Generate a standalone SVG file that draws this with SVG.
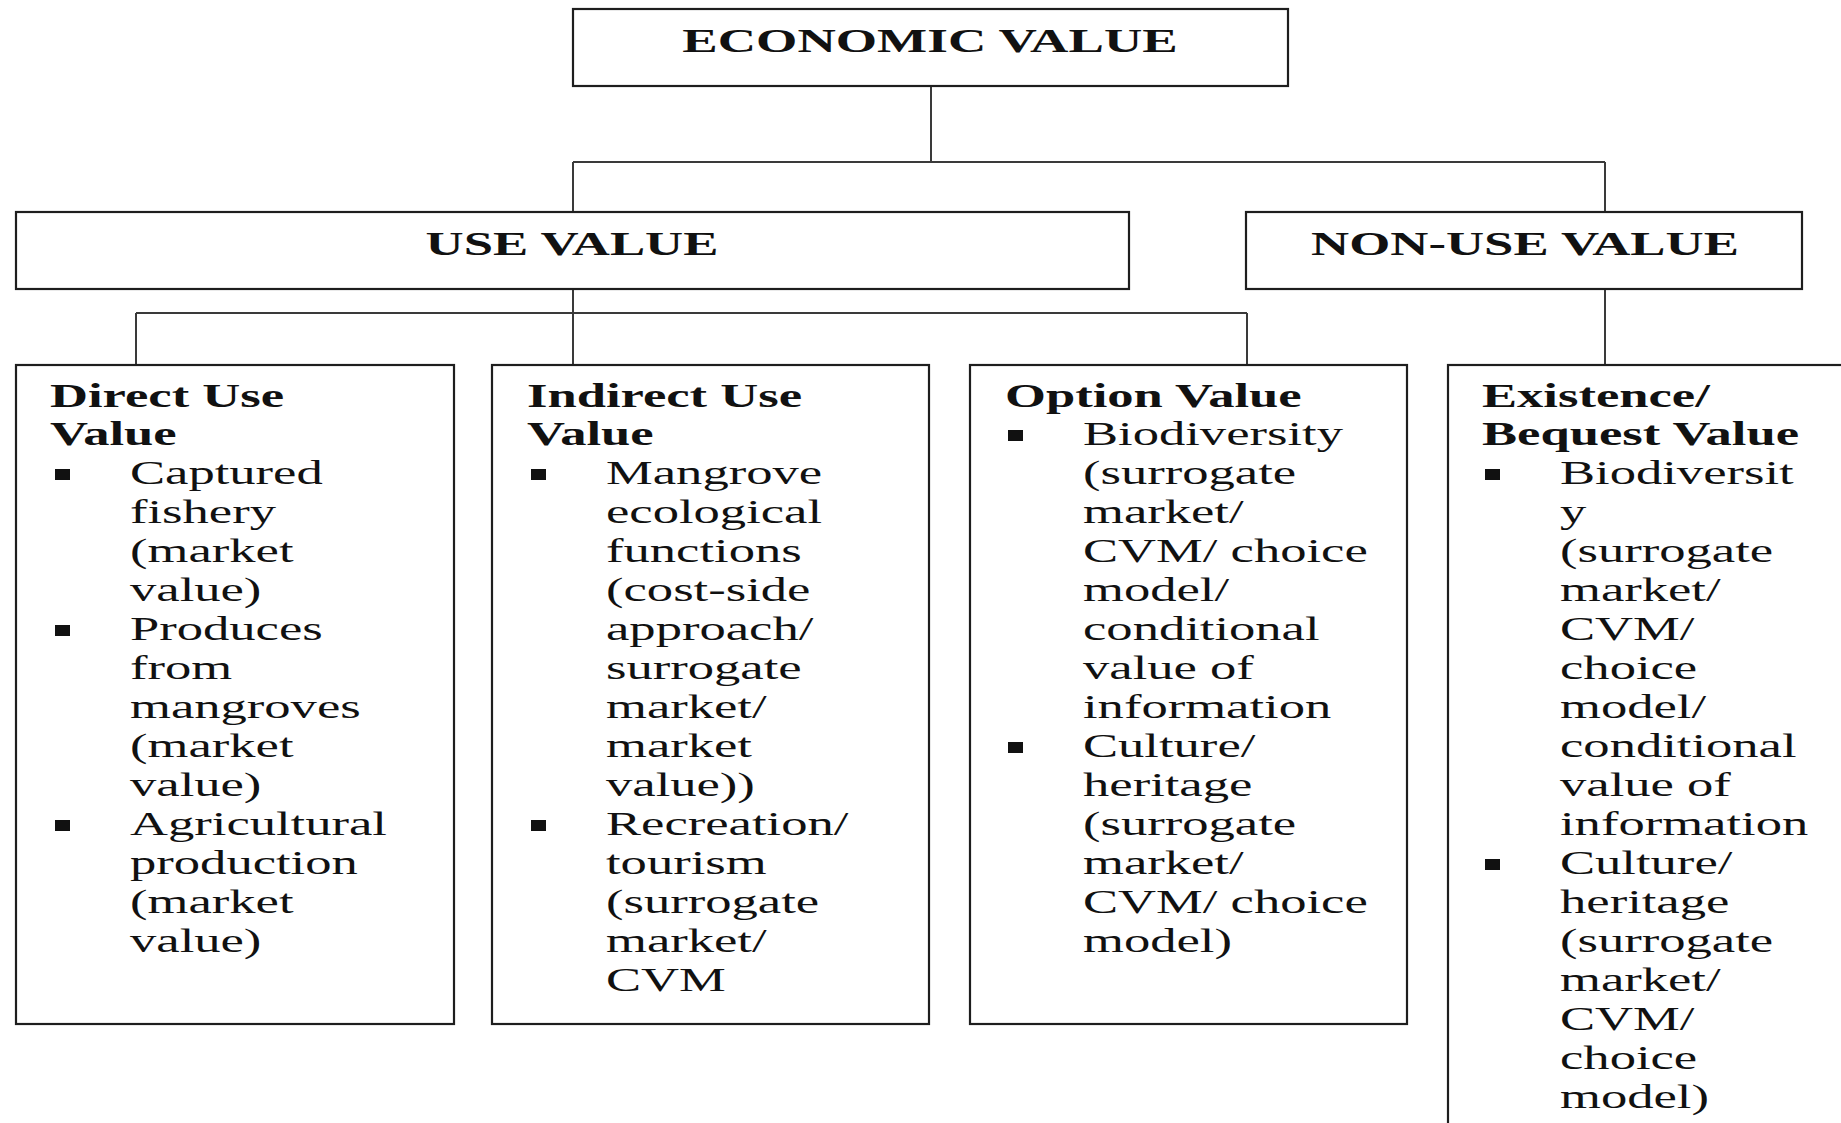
<svg xmlns="http://www.w3.org/2000/svg" width="1841" height="1123" viewBox="0 0 1841 1123">
<style>
.box{fill:#fff;stroke:#1e1e1e;stroke-width:2.2}
.con{fill:none;stroke:#3a3a3a;stroke-width:2}
.h{font-family:"Liberation Serif","Times New Roman",serif;font-weight:bold;font-size:33px;fill:#111}
.t{font-family:"Liberation Serif","Times New Roman",serif;font-size:33px;fill:#111}
.bul{fill:#111}
</style>
<rect width="1841" height="1123" fill="#fff"/>
<g id="connectors">
<path class="con" d="M931,86 V162 M573,162 H1605 M573,162 V212 M1605,162 V212 M573,289 V313 M136,313 H1247 M136,313 V365 M573,313 V365 M1247,313 V365 M1605,289 V365"/>
</g>
<g id="economic-value">
<rect class="box" x="573" y="9" width="715" height="77"/>
<text class="h" text-anchor="middle" transform="translate(930,52) scale(1.61,1)">ECONOMIC VALUE</text>
</g>
<g id="use-value">
<rect class="box" x="16" y="212" width="1113" height="77"/>
<text class="h" text-anchor="middle" transform="translate(572,255) scale(1.6,1)">USE VALUE</text>
</g>
<g id="non-use-value">
<rect class="box" x="1246" y="212" width="556" height="77"/>
<text class="h" text-anchor="middle" transform="translate(1525,255) scale(1.6,1)">NON-USE VALUE</text>
</g>
<g id="direct-use-value">
<rect class="box" x="16" y="365" width="438" height="659"/>
<text class="h" transform="translate(50,407) scale(1.594,1)"><tspan x="0" y="0">Direct Use</tspan><tspan x="0" y="38">Value</tspan></text>
<rect class="bul" x="55" y="469" width="15" height="11"/>
<rect class="bul" x="55" y="625" width="15" height="11"/>
<rect class="bul" x="55" y="820" width="15" height="11"/>
<text class="t" transform="translate(130,484) scale(1.594,1)"><tspan x="0" y="0">Captured</tspan><tspan x="0" dy="39">fishery</tspan><tspan x="0" dy="39">(market</tspan><tspan x="0" dy="39">value)</tspan><tspan x="0" dy="39">Produces</tspan><tspan x="0" dy="39">from</tspan><tspan x="0" dy="39">mangroves</tspan><tspan x="0" dy="39">(market</tspan><tspan x="0" dy="39">value)</tspan><tspan x="0" dy="39">Agricultural</tspan><tspan x="0" dy="39">production</tspan><tspan x="0" dy="39">(market</tspan><tspan x="0" dy="39">value)</tspan></text>
</g>
<g id="indirect-use-value">
<rect class="box" x="492" y="365" width="437" height="659"/>
<text class="h" transform="translate(527,407) scale(1.594,1)"><tspan x="0" y="0">Indirect Use</tspan><tspan x="0" y="38">Value</tspan></text>
<rect class="bul" x="531" y="469" width="15" height="11"/>
<rect class="bul" x="531" y="820" width="15" height="11"/>
<text class="t" transform="translate(606,484) scale(1.594,1)"><tspan x="0" y="0">Mangrove</tspan><tspan x="0" dy="39">ecological</tspan><tspan x="0" dy="39">functions</tspan><tspan x="0" dy="39">(cost-side</tspan><tspan x="0" dy="39">approach/</tspan><tspan x="0" dy="39">surrogate</tspan><tspan x="0" dy="39">market/</tspan><tspan x="0" dy="39">market</tspan><tspan x="0" dy="39">value))</tspan><tspan x="0" dy="39">Recreation/</tspan><tspan x="0" dy="39">tourism</tspan><tspan x="0" dy="39">(surrogate</tspan><tspan x="0" dy="39">market/</tspan><tspan x="0" dy="39">CVM</tspan></text>
</g>
<g id="option-value">
<rect class="box" x="970" y="365" width="437" height="659"/>
<text class="h" transform="translate(1005,407) scale(1.594,1)">Option Value</text>
<rect class="bul" x="1008" y="430" width="15" height="11"/>
<rect class="bul" x="1008" y="742" width="15" height="11"/>
<text class="t" transform="translate(1083,445) scale(1.594,1)"><tspan x="0" y="0">Biodiversity</tspan><tspan x="0" dy="39">(surrogate</tspan><tspan x="0" dy="39">market/</tspan><tspan x="0" dy="39">CVM/ choice</tspan><tspan x="0" dy="39">model/</tspan><tspan x="0" dy="39">conditional</tspan><tspan x="0" dy="39">value of</tspan><tspan x="0" dy="39">information</tspan><tspan x="0" dy="39">Culture/</tspan><tspan x="0" dy="39">heritage</tspan><tspan x="0" dy="39">(surrogate</tspan><tspan x="0" dy="39">market/</tspan><tspan x="0" dy="39">CVM/ choice</tspan><tspan x="0" dy="39">model)</tspan></text>
</g>
<g id="existence-bequest-value">
<rect class="box" x="1448" y="365" width="440" height="800"/>
<text class="h" transform="translate(1482,407) scale(1.594,1)"><tspan x="0" y="0">Existence/</tspan><tspan x="0" y="38">Bequest Value</tspan></text>
<rect class="bul" x="1485" y="469" width="15" height="11"/>
<rect class="bul" x="1485" y="859" width="15" height="11"/>
<text class="t" transform="translate(1560,484) scale(1.594,1)"><tspan x="0" y="0">Biodiversit</tspan><tspan x="0" dy="39">y</tspan><tspan x="0" dy="39">(surrogate</tspan><tspan x="0" dy="39">market/</tspan><tspan x="0" dy="39">CVM/</tspan><tspan x="0" dy="39">choice</tspan><tspan x="0" dy="39">model/</tspan><tspan x="0" dy="39">conditional</tspan><tspan x="0" dy="39">value of</tspan><tspan x="0" dy="39">information</tspan><tspan x="0" dy="39">Culture/</tspan><tspan x="0" dy="39">heritage</tspan><tspan x="0" dy="39">(surrogate</tspan><tspan x="0" dy="39">market/</tspan><tspan x="0" dy="39">CVM/</tspan><tspan x="0" dy="39">choice</tspan><tspan x="0" dy="39">model)</tspan></text>
</g>
</svg>
